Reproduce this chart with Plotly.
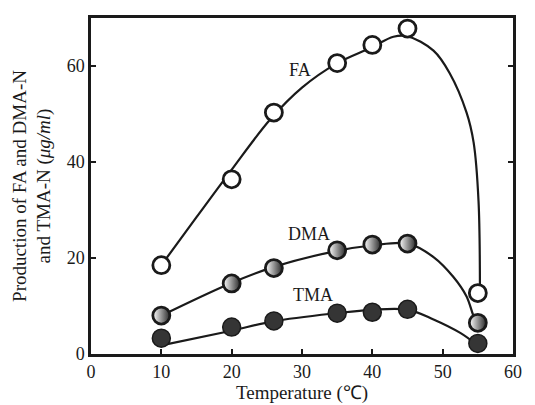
import plotly.graph_objects as go

# Measured data (marker positions)
temps = [10, 20, 26, 35, 40, 45, 55]
fa = [18.5, 36.4, 50.3, 60.6, 64.4, 67.8, 12.7]
dma = [8.0, 14.7, 17.9, 21.6, 22.8, 23.0, 6.5]
tma = [3.3, 5.6, 6.9, 8.5, 8.7, 9.3, 2.2]

# Hand-drawn fitted curves
fa_curve_x = [10, 15, 19.8, 25.5, 30, 34.9, 39.8, 43, 45, 48.7, 51.0, 53.4, 54.4, 55.1, 55.3]
fa_curve_y = [18.5, 28.5, 38.0, 48.9, 55.5, 60.5, 63.8, 66.1, 66.2, 63.2, 58.5, 50.3, 44.1, 31.8, 12.7]
dma_curve_x = [10, 19.8, 25.9, 35, 39.9, 45.1, 48.7, 51.5, 53.4, 54.6, 55.1]
dma_curve_y = [8.0, 14.7, 18.1, 21.5, 22.6, 23.0, 20.2, 16.1, 12.0, 7.2, 6.5]
tma_curve_x = [10, 19.8, 25.9, 34.9, 39.9, 45.1, 48.7, 52.5, 54.8]
tma_curve_y = [1.8, 4.8, 6.8, 8.5, 9.2, 9.2, 7.2, 4.4, 2.0]

labels = ["FA", "DMA", "TMA"]
label_x = [29.7, 31.0, 31.5]
label_y = [59.1, 25.0, 12.3]

INK = "#1a1a1a"
FONT = "Liberation Serif"

fig = go.Figure()
for cx, cy in [(fa_curve_x, fa_curve_y), (dma_curve_x, dma_curve_y), (tma_curve_x, tma_curve_y)]:
    fig.add_trace(go.Scatter(x=cx, y=cy, mode="lines",
                             line=dict(color=INK, width=2.2, shape="spline", smoothing=1.0),
                             hoverinfo="skip", showlegend=False))

fig.add_trace(go.Scatter(x=temps, y=fa, mode="markers", showlegend=False,
                         marker=dict(symbol="circle", size=17, color="white",
                                     line=dict(color=INK, width=2.8))))
fig.add_trace(go.Scatter(x=temps, y=dma, mode="markers", showlegend=False,
                         marker=dict(symbol="circle", size=17, color="white",
                                     gradient=dict(type="horizontal", color="#2a2a2a"),
                                     line=dict(color=INK, width=2.8))))
fig.add_trace(go.Scatter(x=temps, y=tma, mode="markers", showlegend=False,
                         marker=dict(symbol="circle", size=18, color="#353535",
                                     line=dict(color=INK, width=1.5))))

for t, x, y in zip(labels, label_x, label_y):
    fig.add_annotation(x=x, y=y, text=t, showarrow=False,
                       font=dict(family=FONT, size=18, color=INK))

fig.update_layout(
    width=527, height=397,
    margin=dict(l=83, r=22, t=7, b=50),
    paper_bgcolor="white", plot_bgcolor="white",
    font=dict(family=FONT, size=17, color=INK),
)
fig.update_xaxes(range=[0, 60], tickvals=[0, 10, 20, 30, 40, 50, 60],
                 ticks="inside", ticklen=5, tickwidth=2, tickcolor=INK,
                 showline=True, linecolor=INK, linewidth=2.5, mirror=True,
                 showgrid=False, zeroline=False,
                 tickfont=dict(family=FONT, size=18, color=INK),
                 title=dict(text="Temperature (℃)", font=dict(family=FONT, size=19, color=INK), standoff=2))
fig.update_yaxes(range=[0, 70], tickvals=[0, 20, 40, 60],
                 ticks="inside", ticklen=5, tickwidth=2, tickcolor=INK,
                 showline=True, linecolor=INK, linewidth=2.5, mirror="ticks",
                 showgrid=False, zeroline=False,
                 tickfont=dict(family=FONT, size=18, color=INK),
                 title=dict(text="Production of FA and DMA-N<br>and TMA-N (<i>μg/ml</i>)",
                            font=dict(family=FONT, size=19, color=INK), standoff=11))

fig.write_html("out.html")
